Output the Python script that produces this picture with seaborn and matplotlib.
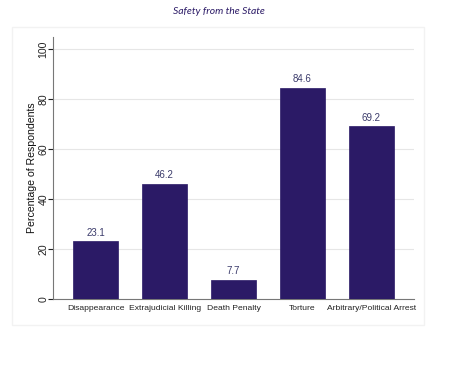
import matplotlib
matplotlib.use("Agg")
import matplotlib.pyplot as plt
import seaborn as sns
import pandas as pd
from matplotlib.patches import Rectangle

categories = ["Disappearance", "Extrajudicial Killing", "Death Penalty", "Torture", "Arbitrary/Political Arrest"]
values = [23.1, 46.2, 7.7, 84.6, 69.2]
yticks = [0, 20, 40, 60, 80, 100]

df = pd.DataFrame({"cat": categories, "val": values})

sns.set_theme(style="white")
plt.rcParams["font.family"] = ["Liberation Sans", "DejaVu Sans"]

fig = plt.figure(figsize=(4.74, 3.70), dpi=100)
fig.patch.set_facecolor("white")
# faint graph-region frame
fig.patches.append(Rectangle((12/474, 1-325/370), (424-12)/474, (325-27)/370,
                             transform=fig.transFigure, fill=False,
                             edgecolor="#f2f2f2", linewidth=1.0, zorder=0))
ax = fig.add_axes([53/474, 1-299/370, (414-53)/474, (299-37)/370])

bar_color = "#2b1a66"
sns.barplot(data=df, x="cat", y="val", color=bar_color, width=0.66,
            saturation=1, ax=ax, zorder=3, edgecolor=bar_color, linewidth=0.5)

ax.set_xlim(-0.62, 4.62)
ax.set_ylim(0, 104.8)
ax.set_yticks(yticks)
ax.set_yticklabels([str(t) for t in yticks], rotation=90, va="center")
ax.yaxis.grid(True, color="#e6e6e6", linewidth=0.8, zorder=0)
ax.set_axisbelow(True)

for i, v in enumerate(values):
    ax.text(i, v + 1.3, f"{v:.1f}", ha="center", va="bottom", fontsize=7, color="#3b3b6b", zorder=4)

ax.set_xlabel("")
ax.set_ylabel("Percentage of Respondents", fontsize=7.6, color="#111111")
ax.yaxis.set_label_coords(-0.045, 0.5)
ax.tick_params(axis="x", labelsize=6.1, colors="#222222", length=0, pad=4)
ax.tick_params(axis="y", labelsize=7.6, colors="#222222", length=3.6, width=0.8, left=True, direction="out", pad=-0.5)
for s in ["top", "right"]:
    ax.spines[s].set_visible(False)
for s in ["left", "bottom"]:
    ax.spines[s].set_color("#777777")
    ax.spines[s].set_linewidth(0.8)

fig.text(219/474, 1-12/370, "Safety from the State", ha="center", va="center",
         fontsize=7.5, style="italic", color="#2b1a66", family=["Lato", "DejaVu Sans"])

fig.savefig("out.png", dpi=100)
